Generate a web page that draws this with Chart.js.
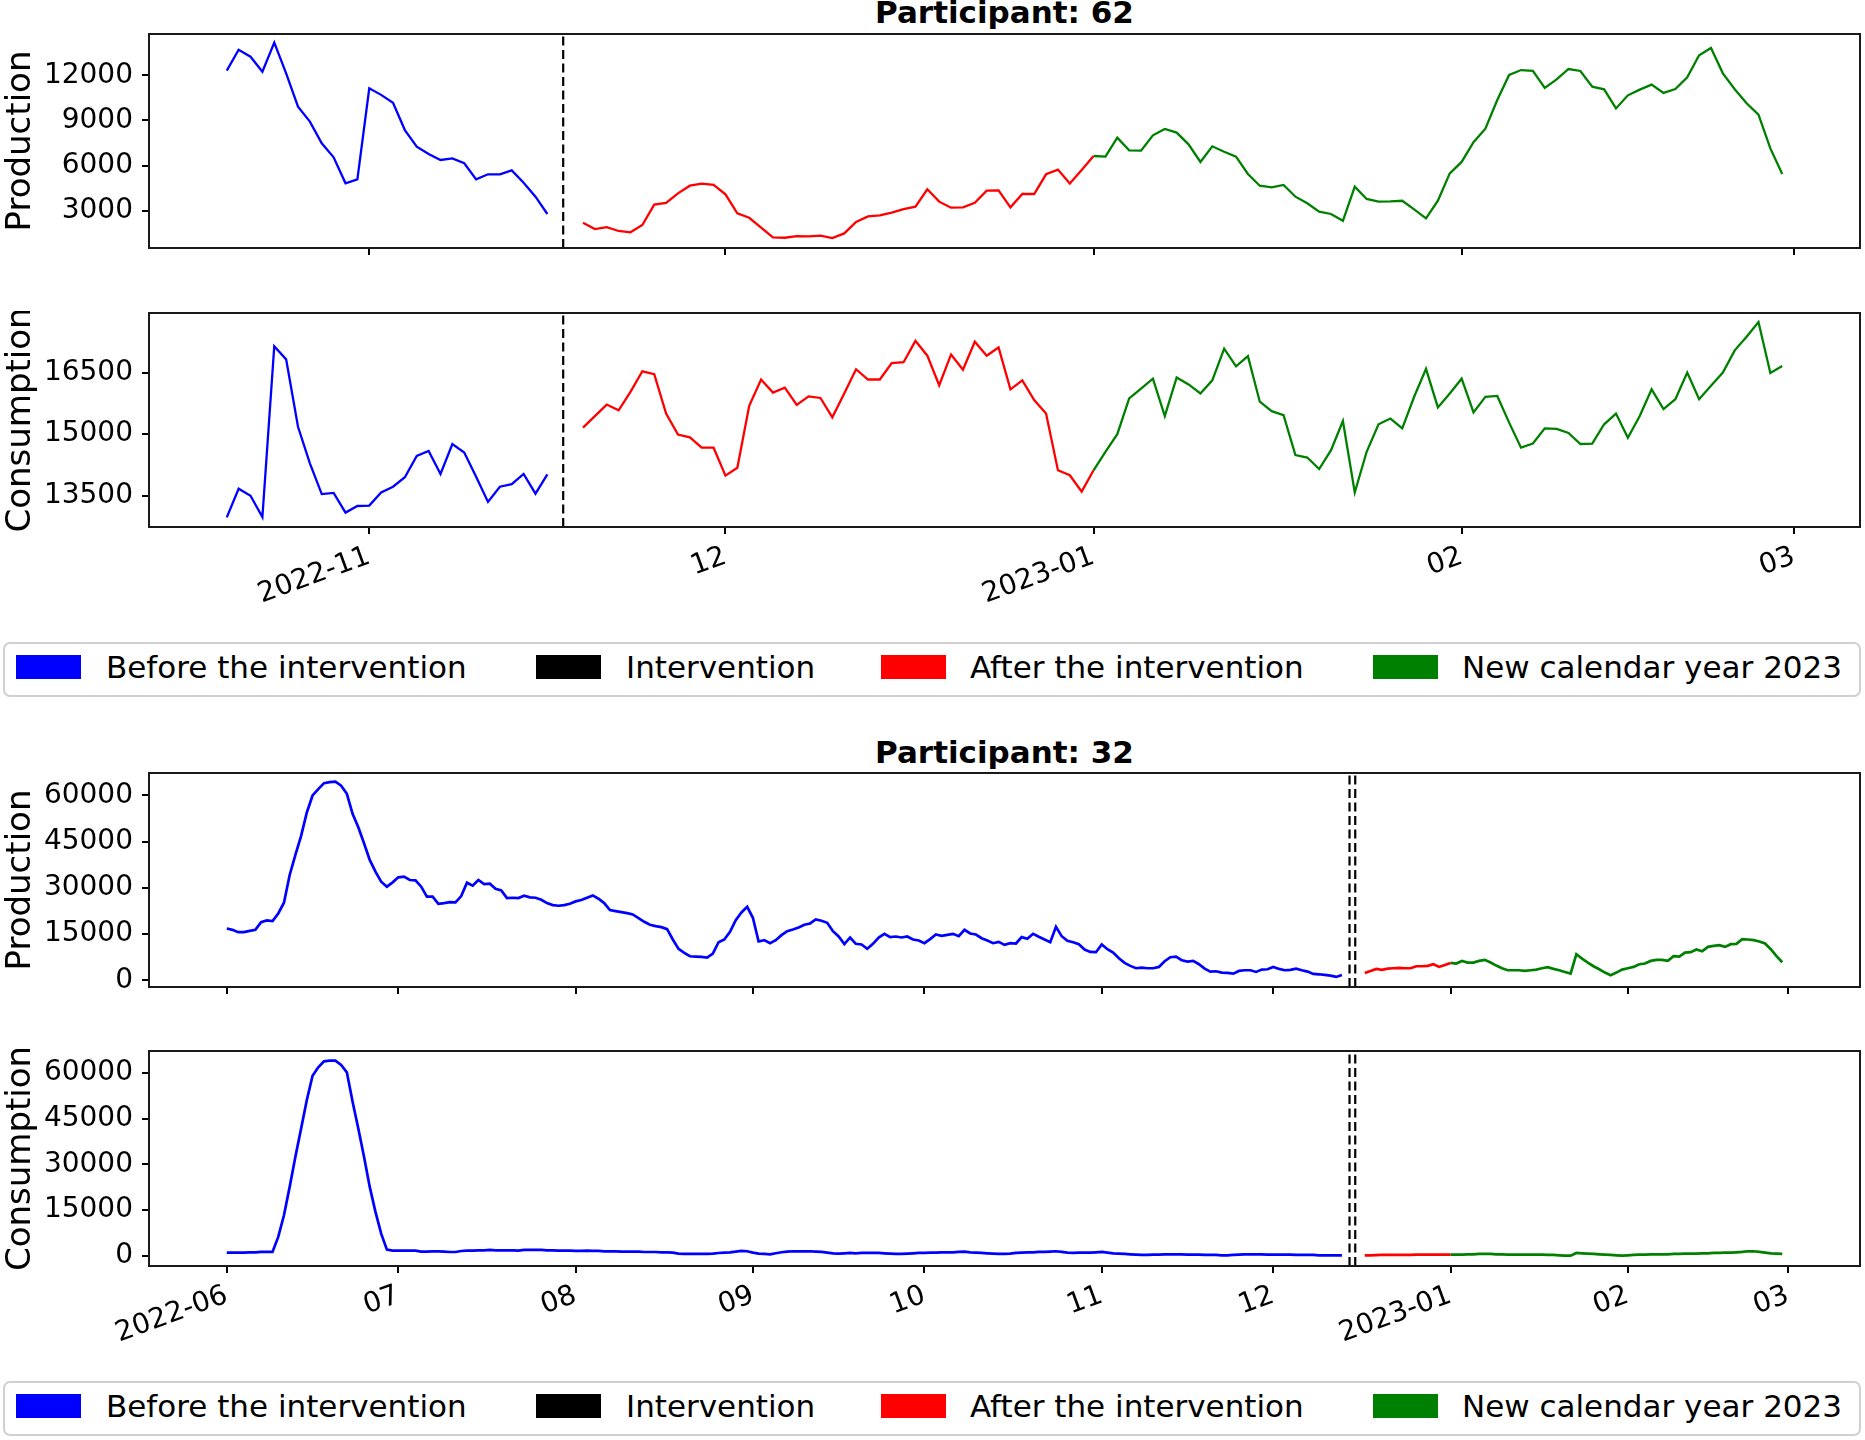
<!DOCTYPE html>
<html>
<head>
<meta charset="utf-8">
<script src="https://cdn.jsdelivr.net/npm/chart.js@4.4.1/dist/chart.umd.min.js"></script>
<style>
  html, body { margin: 0; padding: 0; background: #fff; }
  #fig { position: relative; width: 1865px; height: 1440px; background: #fff; overflow: hidden;
         font-family: 'DejaVu Sans', sans-serif; color: #000; }
  .panel { position: absolute; left: 0; }
  .title { position: absolute; left: 149px; width: 1711px; text-align: center;
           font-weight: bold; font-size: 31px; line-height: 31px; white-space: nowrap; }
  .legend { position: absolute; left: 3px; width: 1854px; height: 51px;
            border: 2px solid #d0d0d0; border-radius: 7px; }
  .patch { position: absolute; width: 65px; height: 24px; }
  .ltext { position: absolute; font-size: 31px; line-height: 31px; white-space: nowrap; }
</style>
</head>
<body>
<div id="fig"></div>
<script>
// --- data (daily values) ---

// Participant 62
const p62BeforeStart = '2022-10-20';
const p62AfterStart = '2022-11-19';
const p62NewYearStart = '2023-01-01';
const p62Intervention = ['2022-11-17T08:00'];

const p62ProdBefore = [12310, 13700, 13240, 12240, 14170, 12130, 9920, 8920, 7480, 6550, 4820, 5080,
  11140, 10700, 10180, 8360, 7260, 6770, 6370, 6480, 6150, 5080, 5420, 5420, 5680, 4860, 3930, 2780];
const p62ProdAfter = [2200, 1780, 1910, 1650, 1560, 2050, 3400, 3510, 4150, 4660, 4800, 4710,
  4090, 2820, 2530, 1870, 1230, 1200, 1310, 1290, 1340, 1180, 1490, 2250, 2620, 2690, 2870, 3110, 3270, 4420,
  3600, 3200, 3220, 3530, 4330, 4350, 3220, 4110, 4110, 5420, 5730, 4800, 5700, 6635];
const p62ProdNewYear = [6635, 6590, 7850, 7010, 6990, 8010, 8430, 8190, 7410, 6240, 7280, 6920, 6590, 5440,
  4660, 4550, 4710, 3930, 3490, 2930, 2780, 2330, 4600, 3780, 3600, 3620, 3660, 3090, 2490, 3660, 5480,
  6240, 7550, 8450, 10360, 12020, 12350, 12290, 11160, 11730, 12420, 12290, 11250, 11070, 9800, 10670,
  11050, 11380, 10830, 11090, 11870, 13330, 13820, 12130, 11070, 10140, 9380, 7140, 5440];

const p62ConsBefore = [12973, 13670, 13500, 12980, 17140, 16820, 15180, 14290, 13540, 13570, 13090, 13250,
  13260, 13580, 13720, 13950, 14470, 14590, 14030, 14760, 14550, 13960, 13350, 13720, 13780, 14030, 13550, 14020];
const p62ConsAfter = [15160, 15440, 15720, 15580, 16030, 16530, 16460, 15500, 14990, 14920, 14670, 14670,
  13990, 14180, 15690, 16330, 16010, 16130, 15710, 15920, 15880, 15410, 15990, 16580, 16330, 16330, 16730,
  16750, 17270, 16910, 16190, 16940, 16570, 17250, 16910, 17110, 16090, 16310, 15830, 15500, 14120, 14000,
  13600, 14120];
const p62ConsNewYear = [14120, 14570, 15000, 15870, 16110, 16350, 15440, 16380, 16210, 15990, 16310, 17080,
  16650, 16900, 15790, 15560, 15460, 14490, 14430, 14150, 14610, 15320, 13580, 14570, 15240, 15380, 15140,
  15910, 16590, 15650, 15990,
  16350, 15530, 15910, 15930, 15280, 14670, 14770, 15140, 15130, 15030, 14760, 14770, 15240, 15500, 14910,
  15440, 16090, 15610, 15850, 16500, 15850, 16180, 16500, 17040, 17370, 17730, 16490, 16660];

const p62MonthTicks = ['2022-11-01', '2022-12-01', '2023-01-01', '2023-02-01', '2023-03-01'];
const p62MonthLabels = ['2022-11', '12', '2023-01', '02', '03'];
const p62ProdTicks = [3000, 6000, 9000, 12000];
const p62ProdRange = [519, 14747];
const p62ConsTicks = [13500, 15000, 16500];
const p62ConsRange = [12739, 17949];

// Participant 32
const p32BeforeStart = '2022-06-01';
const p32AfterStart = '2022-12-17';
const p32NewYearStart = '2023-01-01';
const p32Intervention = ['2022-12-14T08:00', '2022-12-15T08:00'];

const p32ProdBefore = [16820, 16380, 15620, 15620, 16060, 16380, 18880, 19420, 19200, 21700,
  25170, 34180, 40690, 46870, 54470, 60000, 62060, 64000, 64340, 64450,
  63150, 60540, 54030, 49690, 44490, 39060, 35260, 32010, 30380, 31790,
  33420, 33640, 32550, 32440, 30380, 27130, 27130, 24850, 25060, 25390,
  25280, 27340, 31680, 30710, 32550, 31250, 31360, 29730, 29190, 26690,
  26800, 26690, 27450, 26910, 26800, 26150, 25060, 24410, 24200, 24410,
  24850, 25610, 26040, 26800, 27560, 26470, 25060, 22790, 22460, 22130,
  21810, 21370, 20180, 18990, 18010, 17580, 17250, 16600, 13240, 10200,
  8900, 7810, 7700, 7600, 7380, 8680, 12370, 13240, 15730, 19530,
  22030, 23870, 20290, 12590, 13020, 12040, 13020, 14650, 15950, 16490,
  17140, 18010, 18450, 19750, 19310, 18660, 15950, 14210, 11720, 13890,
  11830, 11610, 10200, 11830, 13890, 15080, 14000, 14210, 13890, 14210,
  13240, 12910, 12040, 13350, 14860, 14430, 14760, 15080, 14320, 16380,
  15190, 14860, 13670, 12910, 12040, 12480, 11500, 12040, 11940, 14000,
  13450, 15080, 14110, 13240, 12370, 17360, 14320, 12800, 12370, 11720,
  9980, 9220, 9110, 11610, 10090, 9010, 7160, 5640, 4670, 3910,
  4120, 3910, 3910, 4340, 6180, 7490, 7700, 6510, 6080, 6290,
  5210, 3800, 2820, 2930, 2500, 2390, 2170, 3040, 3260, 3260,
  2710, 3470, 3580, 4340, 3690, 3260, 3360, 3800, 3260, 2820,
  2060, 1950, 1740, 1520, 1090, 1740];
const p32ProdAfter = [2390, 3040, 3690, 3360, 3800, 3910, 4010, 3910, 3910, 4560, 4560, 4670, 5210, 4340,
  4990, 5640];
const p32ProdNewYear = [5640, 5430, 6290, 5750, 5750, 6290, 6620, 5750, 4770, 3910,
  3260, 3260, 3260, 3040, 3260, 3470, 3910, 4230, 3690, 3260,
  2710, 2170, 8460, 7050, 5750, 4560, 3580, 2500, 1630, 2500,
  3470, 3910, 4340, 5210, 5430, 6290, 6620, 6620, 6290, 7810,
  7700, 9010, 9110, 9980, 9440, 10850, 11180, 11390, 10850, 11720,
  11830, 13350, 13240, 13020, 12590, 11940, 10090, 7810, 5860];

const p32ConsBefore = [1110, 1110, 1110, 1110, 1200, 1200, 1330, 1330, 1330, 6230,
  13330, 22620, 32460, 41750, 51040, 59020, 61750, 63720, 63940, 63940,
  62520, 60120, 50500, 41750, 32460, 22620, 14430, 7320, 2080, 1750,
  1750, 1750, 1750, 1750, 1420, 1420, 1530, 1530, 1420, 1310,
  1310, 1640, 1750, 1750, 1860, 1860, 1970, 1860, 1860, 1860,
  1860, 1750, 1970, 1970, 1970, 1970, 1860, 1860, 1750, 1750,
  1750, 1640, 1640, 1750, 1640, 1640, 1530, 1530, 1530, 1420,
  1420, 1420, 1420, 1310, 1310, 1310, 1200, 1200, 1090, 770,
  660, 660, 660, 660, 660, 770, 980, 1090, 1200, 1420,
  1650, 1540, 1100, 770, 660, 550, 880, 1210, 1430, 1540,
  1540, 1540, 1540, 1430, 1330, 1100, 880, 770, 880, 990,
  880, 990, 990, 990, 990, 880, 770, 660, 660, 770,
  880, 990, 990, 1100, 1100, 1210, 1210, 1210, 1330, 1430,
  1210, 1100, 990, 880, 770, 660, 660, 770, 990, 1100,
  1210, 1210, 1330, 1330, 1430, 1540, 1330, 1100, 990, 1100,
  1100, 1100, 1210, 1330, 1100, 880, 770, 660, 550, 440,
  330, 330, 440, 440, 550, 550, 550, 550, 440, 440,
  440, 330, 330, 330, 230, 230, 330, 440, 550, 550,
  550, 550, 440, 440, 440, 440, 440, 330, 330, 330,
  330, 230, 230, 230, 230, 230];
const p32ConsAfter = [230, 230, 280, 330, 330, 330, 330, 380, 380, 440, 440, 440, 440, 440, 440, 440];
const p32ConsNewYear = [440, 440, 440, 550, 550, 660, 660, 660, 550, 550,
  440, 440, 440, 440, 440, 440, 440, 330, 330, 230,
  120, 120, 990, 880, 770, 660, 550, 440, 330, 230,
  120, 230, 330, 440, 440, 550, 550, 550, 550, 660,
  660, 770, 770, 770, 880, 880, 990, 990, 1100, 1100,
  1210, 1330, 1540, 1540, 1330, 1100, 880, 770, 660];

const p32MonthTicks = ['2022-06-01', '2022-07-01', '2022-08-01', '2022-09-01', '2022-10-01', '2022-11-01',
  '2022-12-01', '2023-01-01', '2023-02-01', '2023-03-01'];
const p32MonthLabels = ['2022-06', '07', '08', '09', '10', '11', '12', '2023-01', '02', '03'];
const p32Ticks = [0, 15000, 30000, 45000, 60000];
const p32ProdRange = [-2180, 67290];
const p32ConsRange = [-3280, 67100];

const legendLabels = ['Before the intervention', 'Intervention', 'After the intervention', 'New calendar year 2023'];
const legendColors = ['#0000ff', '#000000', '#ff0000', '#008000'];

// --- helpers ---
const EPOCH = Date.UTC(2022, 5, 1);

// days since 2022-06-01 (fractional when a time is given)
function dayOf(s) {
    const [d, t] = s.split('T');
    const [y, m, dd] = d.split('-').map(Number);
    let v = (Date.UTC(y, m - 1, dd) - EPOCH) / 864e5;
    if (t) {
        const [h, mi] = t.split(':').map(Number);
        v += (h + mi / 60) / 24;
    }
    return v;
}

function series(start, values) {
    const d0 = dayOf(start);
    return values.map((v, i) => ({ x: d0 + i, y: v }));
}

function lineSet(data, color, width) {
    return { data, borderColor: color, borderWidth: width, pointRadius: 0, tension: 0, fill: false };
}

function dashSet(date, range) {
    const x = dayOf(date);
    return { data: [{ x, y: range[0] }, { x, y: range[1] }], borderColor: '#000', borderWidth: 2.2,
             borderDash: [9, 4.5], pointRadius: 0, fill: false };
}

// axes frame (matplotlib spines)
const framePlugin = {
    id: 'frame',
    afterDraw(chart) {
        const { ctx, chartArea: a } = chart;
        ctx.save();
        ctx.strokeStyle = '#1a1a1a';
        ctx.lineWidth = 2;
        ctx.strokeRect(a.left, a.top, a.right - a.left, a.bottom - a.top);
        ctx.restore();
    }
};

Chart.defaults.font.family = "'DejaVu Sans', sans-serif";
Chart.defaults.color = '#000';

const fig = document.getElementById('fig');

function makePanel(cfg) {
    const padTop = 2;
    const h = padTop + cfg.areaH + cfg.xAxisH;
    const canvas = document.createElement('canvas');
    canvas.className = 'panel';
    canvas.width = 1865;
    canvas.height = h;
    canvas.style.top = (cfg.top - padTop) + 'px';
    canvas.style.width = '1865px';
    canvas.style.height = h + 'px';
    fig.appendChild(canvas);

    const xTickVals = cfg.xTicks.map(dayOf);
    const tickGrid = { display: true, drawOnChartArea: false, drawTicks: true, tickLength: 7, color: '#000', lineWidth: 2 };

    return new Chart(canvas, {
        type: 'line',
        data: { datasets: cfg.datasets },
        options: {
            responsive: false,
            animation: false,
            devicePixelRatio: 1,
            layout: { padding: { top: padTop, right: 5, left: 0, bottom: 0 } },
            plugins: { legend: { display: false }, tooltip: { enabled: false } },
            scales: {
                x: {
                    type: 'linear',
                    min: cfg.xMin,
                    max: cfg.xMax,
                    grid: tickGrid,
                    border: { display: false },
                    afterBuildTicks: s => { s.ticks = xTickVals.map(v => ({ value: v })); },
                    afterFit: s => { s.height = cfg.xAxisH; s.paddingLeft = 0; s.paddingRight = 0; },
                    ticks: {
                        display: cfg.showX,
                        autoSkip: false,
                        minRotation: 20,
                        maxRotation: 20,
                        padding: 6,
                        font: { size: 28 },
                        callback: (v, i) => cfg.xLabels[i]
                    }
                },
                y: {
                    type: 'linear',
                    min: cfg.yRange[0],
                    max: cfg.yRange[1],
                    grid: tickGrid,
                    border: { display: false },
                    afterBuildTicks: s => { s.ticks = cfg.yTicks.map(v => ({ value: v })); },
                    afterFit: s => { s.width = 149; s.paddingTop = 0; s.paddingBottom = 0; },
                    ticks: { padding: 9, font: { size: 28 }, callback: v => String(v) },
                    title: { display: true, text: cfg.yTitle, font: { size: 34 }, padding: { top: 1, bottom: 0 } }
                }
            }
        },
        plugins: [framePlugin]
    });
}

function addTitle(text, top) {
    const el = document.createElement('div');
    el.className = 'title';
    el.style.top = top + 'px';
    el.textContent = text;
    fig.appendChild(el);
}

// legend laid out like the matplotlib one (4 columns, expanded)
const legendPatchX = [16, 536, 881, 1373];
const legendTextX = [106, 626, 970, 1462];

function addLegend(top) {
    const box = document.createElement('div');
    box.className = 'legend';
    box.style.top = top + 'px';
    fig.appendChild(box);
    legendLabels.forEach((lab, i) => {
        const p = document.createElement('div');
        p.className = 'patch';
        p.style.left = legendPatchX[i] + 'px';
        p.style.top = (top + 13) + 'px';
        p.style.background = legendColors[i];
        fig.appendChild(p);
        const t = document.createElement('div');
        t.className = 'ltext';
        t.style.left = legendTextX[i] + 'px';
        t.style.top = (top + 10) + 'px';
        t.textContent = lab;
        fig.appendChild(t);
    });
}

// --- Participant 62 ---
const p62Min = dayOf(p62BeforeStart), p62Max = dayOf('2023-02-28');
const p62Pad = (p62Max - p62Min) * 0.05;

addTitle('Participant: 62', -3);

makePanel({
    top: 34, areaH: 214, xAxisH: 14, showX: false,
    xMin: p62Min - p62Pad, xMax: p62Max + p62Pad, xTicks: p62MonthTicks, xLabels: p62MonthLabels,
    yRange: p62ProdRange, yTicks: p62ProdTicks, yTitle: 'Production',
    datasets: [
        lineSet(series(p62BeforeStart, p62ProdBefore), '#0000ff', 2.3),
        lineSet(series(p62AfterStart, p62ProdAfter), '#ff0000', 2.3),
        lineSet(series(p62NewYearStart, p62ProdNewYear), '#008000', 2.3),
        ...p62Intervention.map(d => dashSet(d, p62ProdRange))
    ]
});

makePanel({
    top: 313, areaH: 214, xAxisH: 110, showX: true,
    xMin: p62Min - p62Pad, xMax: p62Max + p62Pad, xTicks: p62MonthTicks, xLabels: p62MonthLabels,
    yRange: p62ConsRange, yTicks: p62ConsTicks, yTitle: 'Consumption',
    datasets: [
        lineSet(series(p62BeforeStart, p62ConsBefore), '#0000ff', 2.3),
        lineSet(series(p62AfterStart, p62ConsAfter), '#ff0000', 2.3),
        lineSet(series(p62NewYearStart, p62ConsNewYear), '#008000', 2.3),
        ...p62Intervention.map(d => dashSet(d, p62ConsRange))
    ]
});

addLegend(642);

// --- Participant 32 ---
const p32Min = dayOf(p32BeforeStart), p32Max = dayOf('2023-02-28');
const p32Pad = (p32Max - p32Min) * 0.05;

addTitle('Participant: 32', 737);

makePanel({
    top: 773, areaH: 214, xAxisH: 14, showX: false,
    xMin: p32Min - p32Pad, xMax: p32Max + p32Pad, xTicks: p32MonthTicks, xLabels: p32MonthLabels,
    yRange: p32ProdRange, yTicks: p32Ticks, yTitle: 'Production',
    datasets: [
        lineSet(series(p32BeforeStart, p32ProdBefore), '#0000ff', 2.7),
        lineSet(series(p32AfterStart, p32ProdAfter), '#ff0000', 2.7),
        lineSet(series(p32NewYearStart, p32ProdNewYear), '#008000', 2.7),
        ...p32Intervention.map(d => dashSet(d, p32ProdRange))
    ]
});

makePanel({
    top: 1051, areaH: 215, xAxisH: 110, showX: true,
    xMin: p32Min - p32Pad, xMax: p32Max + p32Pad, xTicks: p32MonthTicks, xLabels: p32MonthLabels,
    yRange: p32ConsRange, yTicks: p32Ticks, yTitle: 'Consumption',
    datasets: [
        lineSet(series(p32BeforeStart, p32ConsBefore), '#0000ff', 2.7),
        lineSet(series(p32AfterStart, p32ConsAfter), '#ff0000', 2.7),
        lineSet(series(p32NewYearStart, p32ConsNewYear), '#008000', 2.7),
        ...p32Intervention.map(d => dashSet(d, p32ConsRange))
    ]
});

addLegend(1381);
</script>
</body>
</html>
